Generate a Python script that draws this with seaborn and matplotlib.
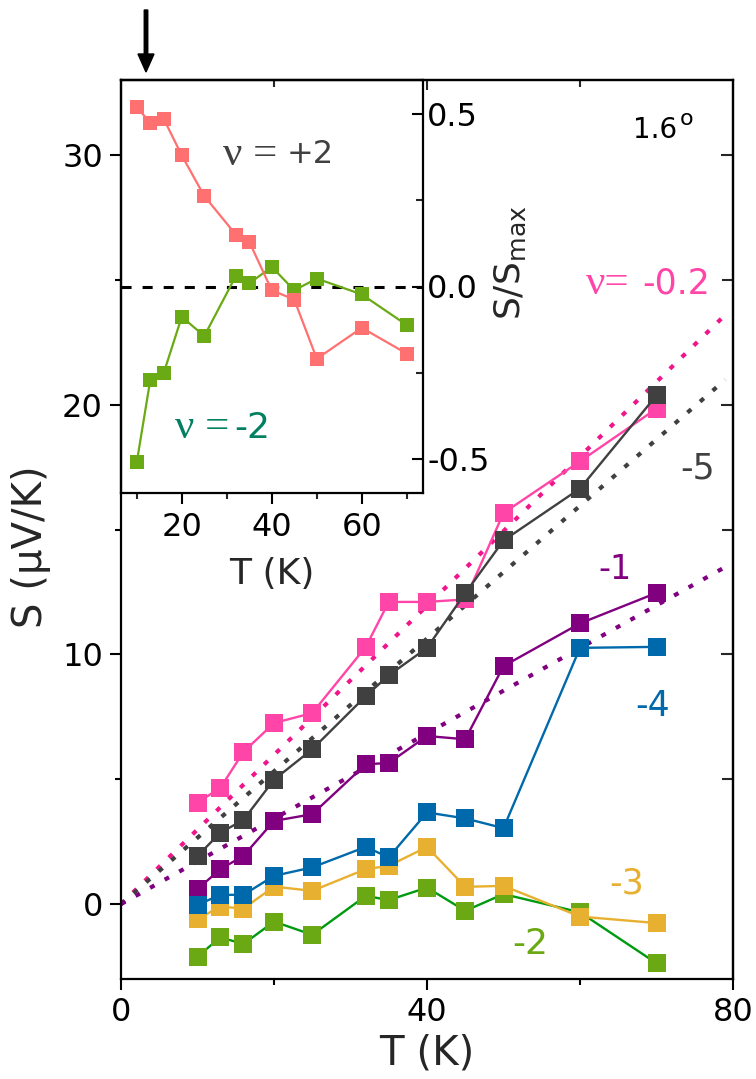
import numpy as np
import pandas as pd
import matplotlib
matplotlib.use("Agg")
import matplotlib.pyplot as plt
import seaborn as sns
from matplotlib.ticker import FixedLocator, FormatStrFormatter
from matplotlib.patches import FancyArrow

# ---------------- data ----------------
T = [10, 13, 16, 20, 25, 32, 35, 40, 45, 50, 60, 70]

# thermopower S (uV/K) at several filling factors
S_nu_m02 = [4.06, 4.66, 6.09, 7.25, 7.65, 10.3, 12.1, 12.1, 12.2, 15.66, 17.73, 19.84]
S_nu_m1 = [0.6, 1.4, 1.93, 3.33, 3.6, 5.6, 5.65, 6.73, 6.6, 9.53, 11.24, 12.46]
S_nu_m2 = [-2.1, -1.33, -1.6, -0.7, -1.23, 0.33, 0.16, 0.66, -0.27, 0.4, -0.33, -2.37]
S_nu_m3 = [-0.6, -0.1, -0.18, 0.7, 0.53, 1.4, 1.53, 2.29, 0.69, 0.73, -0.5, -0.76]
S_nu_m4 = [-0.03, 0.37, 0.37, 1.13, 1.47, 2.29, 1.87, 3.67, 3.43, 3.04, 10.26, 10.3]
S_nu_m5 = [1.93, 2.86, 3.37, 4.98, 6.2, 8.33, 9.16, 10.26, 12.45, 14.56, 16.64, 20.37]

# linear-in-T guides through the origin
fit_T = [0, 79]
fit_nu_m02 = [0, 23.6]
fit_nu_m5 = [0, 21.0]
fit_nu_m1 = [0, 13.5]

# normalised thermopower S/S_max (inset)
R_nu_p2 = [0.521, 0.476, 0.487, 0.381, 0.263, 0.151, 0.130, -0.011, -0.038, -0.210, -0.120, -0.195]
R_nu_m2 = [-0.511, -0.272, -0.251, -0.088, -0.144, 0.030, 0.009, 0.057, -0.011, 0.023, -0.023, -0.112]

main_labels = ["-0.2", "-1", "-2", "-3", "-4", "-5"]
main_values = [S_nu_m02, S_nu_m1, S_nu_m2, S_nu_m3, S_nu_m4, S_nu_m5]

# ---------------- style ----------------
sns.set_theme(style="ticks")
plt.rcParams["font.family"] = ["DejaVu Sans"]
plt.rcParams["mathtext.fontset"] = "custom"
plt.rcParams["mathtext.sf"] = "DejaVu Sans"
plt.rcParams["axes.unicode_minus"] = False

FS = 23
SERIF = ["Liberation Serif", "DejaVu Serif"]
marker_colors = {"-0.2": "#FF45A8", "-1": "#800080", "-2": "#6AA814",
                 "-3": "#E8B030", "-4": "#0069AB", "-5": "#404040"}
line_colors = {"-0.2": "#FF45A8", "-1": "#800080", "-2": "#009A10",
               "-3": "#E8B030", "-4": "#0069AB", "-5": "#404040"}

fig = plt.figure(figsize=(7.56, 10.79), dpi=100)
W, H = 756, 1079


def frac(x0, y0, x1, y1):
    return [x0 / W, 1 - y1 / H, (x1 - x0) / W, (y1 - y0) / H]


def fpos(x, y):
    return x / W, 1 - y / H


ax = fig.add_axes(frac(121, 80, 733, 979))
ax.set_xlim(0, 80)
ax.set_ylim(-3, 33)

# dotted guides
fit_df = pd.DataFrame({
    "T": fit_T * 3,
    "S": fit_nu_m02 + fit_nu_m5 + fit_nu_m1,
    "nu": ["-0.2"] * 2 + ["-5"] * 2 + ["-1"] * 2,
})
sns.lineplot(data=fit_df, x="T", y="S", hue="nu",
             palette={"-0.2": "#F0158A", "-5": "#404040", "-1": "#800080"},
             lw=3.0, linestyle=(0, (1.2, 2.8)), legend=False, ax=ax, zorder=2)

# measured series
df = pd.DataFrame({
    "T": T * len(main_labels),
    "S": sum(main_values, []),
    "nu": sum([[lab] * len(T) for lab in main_labels], []),
})
for i, lab in enumerate(main_labels):
    sub = df[df["nu"] == lab]
    sns.lineplot(data=sub, x="T", y="S", color=line_colors[lab], lw=1.7,
                 ax=ax, zorder=3 + i, legend=False)
    sns.scatterplot(data=sub, x="T", y="S", color=marker_colors[lab], marker="s",
                    s=150, linewidth=0, ax=ax, zorder=3.5 + i, legend=False)

for side in ax.spines.values():
    side.set_linewidth(1.6)
    side.set_color("black")
    side.set_visible(True)

ax.xaxis.set_major_locator(FixedLocator([0, 40, 80]))
ax.xaxis.set_minor_locator(FixedLocator([20, 60]))
ax.yaxis.set_major_locator(FixedLocator([0, 10, 20, 30]))
ax.yaxis.set_minor_locator(FixedLocator([5, 15, 25]))
ax.tick_params(which="major", direction="out", length=8, width=1.5,
               labelsize=FS, pad=5, colors="black")
ax.tick_params(which="minor", direction="out", length=4, width=1.5, colors="black")

top = ax.secondary_xaxis("top")
top.xaxis.set_major_locator(FixedLocator([40]))
top.xaxis.set_minor_locator(FixedLocator([20, 60]))
top.tick_params(which="major", direction="in", length=7, width=1.5, labeltop=False)
top.tick_params(which="minor", direction="in", length=5, width=1.5)
top.spines["top"].set_linewidth(1.6)

right = ax.secondary_yaxis("right")
right.yaxis.set_major_locator(FixedLocator([10, 20, 30]))
right.yaxis.set_minor_locator(FixedLocator([5, 15, 25]))
right.tick_params(which="major", direction="in", length=9, width=1.5, labelright=False)
right.tick_params(which="minor", direction="in", length=8, width=1.5)
right.spines["right"].set_linewidth(1.6)

ax.set_xlabel("")
ax.set_ylabel("")
fig.text(*fpos(427, 1053), "T (K)", fontsize=29, ha="center", va="center")
fig.text(*fpos(31, 547), "S (μV/K)", fontsize=29, ha="center", va="center", rotation=90)

# twist-angle tag
ax.text(66.9, 31.0, "1.6", fontsize=20, color="black", va="center", ha="left")
ax.text(73.1, 31.45, "o", fontsize=16, color="black", va="center", ha="left")

# filling-factor tags
ax.text(66.5, 24.85, "ν=", fontsize=31, family=SERIF, color="#FF45A8", va="center", ha="right")
ax.text(68.1, 24.85, "-0.2", fontsize=25, color="#FF45A8", va="center", ha="left")
ax.text(75.4, 17.45, "-5", fontsize=25, color="#404040", va="center", ha="center")
ax.text(64.6, 13.4, "-1", fontsize=24, color="#800080", va="center", ha="center")
ax.text(69.5, 7.93, "-4", fontsize=25, color="#0069AB", va="center", ha="center")
ax.text(66.1, 0.81, "-3", fontsize=25, color="#E8B030", va="center", ha="center")
ax.text(53.5, -1.59, "-2", fontsize=26, color="#6AA814", va="center", ha="center")

# ---------------- inset ----------------
axi = fig.add_axes(frac(121, 80, 423, 493))
axi.set_facecolor("none")
axi.set_zorder(ax.get_zorder() + 1)
axi.set_xlim(6.5, 73.6)
axi.set_ylim(-0.6, 0.6)
axi.axhline(0, color="black", lw=2.2, ls=(0, (3.3, 3.6)), zorder=1)

inset_df = pd.DataFrame({
    "T": T * 2,
    "R": R_nu_m2 + R_nu_p2,
    "nu": ["-2"] * len(T) + ["+2"] * len(T),
})
inset_colors = {"-2": "#6AAA14", "+2": "#FF7070"}
for i, lab in enumerate(["-2", "+2"]):
    sub = inset_df[inset_df["nu"] == lab]
    sns.lineplot(data=sub, x="T", y="R", color=inset_colors[lab], lw=1.6,
                 ax=axi, zorder=2 + i, legend=False)
    sns.scatterplot(data=sub, x="T", y="R", color=inset_colors[lab], marker="s",
                    s=108, linewidth=0, ax=axi, zorder=2.5 + i, legend=False)

for side in axi.spines.values():
    side.set_linewidth(1.6)
    side.set_color("black")
    side.set_visible(True)

axi.xaxis.set_major_locator(FixedLocator([20, 40, 60]))
axi.xaxis.set_minor_locator(FixedLocator([10, 30, 50, 70]))
axi.yaxis.set_major_locator(FixedLocator([-0.5, 0.0, 0.5]))
axi.yaxis.set_minor_locator(FixedLocator([-0.25, 0.25]))
axi.yaxis.set_major_formatter(FormatStrFormatter("%.1f"))
axi.tick_params(axis="x", which="major", direction="out", length=8, width=1.5,
                labelsize=FS, pad=6, colors="black")
axi.tick_params(axis="x", which="minor", direction="out", length=4.5, width=1.5)
axi.tick_params(axis="y", which="major", direction="in", length=8, width=1.5,
                left=False, right=True, labelleft=False, labelright=True,
                labelsize=FS, pad=3, colors="black")
axi.tick_params(axis="y", which="minor", direction="in", length=5, width=1.5,
                left=False, right=True)
axi.set_xlabel("")
axi.set_ylabel("")
fig.text(*fpos(272, 574), "T (K)", fontsize=26, ha="center", va="center")
fig.text(*fpos(510, 263), r"S/S$_{\mathsf{max}}$", fontsize=26, ha="center", va="center",
         rotation=90)

axi.text(41.2, 0.384, "ν =", fontsize=31, family=SERIF, color="#404040", ha="right", va="center")
axi.text(43.2, 0.384, "+2", fontsize=23, color="#404040", ha="left", va="center")
axi.text(30.5, -0.41, "ν =", fontsize=31, family=SERIF, color="#008060", ha="right", va="center")
axi.text(31.6, -0.41, "-2", fontsize=26, color="#008060", ha="left", va="center")

# arrow marking the low-temperature point
fig.patches.append(FancyArrow(
    146 / W, 1 - 10 / H, 0, -(62 / H), width=3.5 / W, head_width=16 / W,
    head_length=18 / H, length_includes_head=True, color="black",
    transform=fig.transFigure, figure=fig))

fig.savefig("out.png", dpi=100)
